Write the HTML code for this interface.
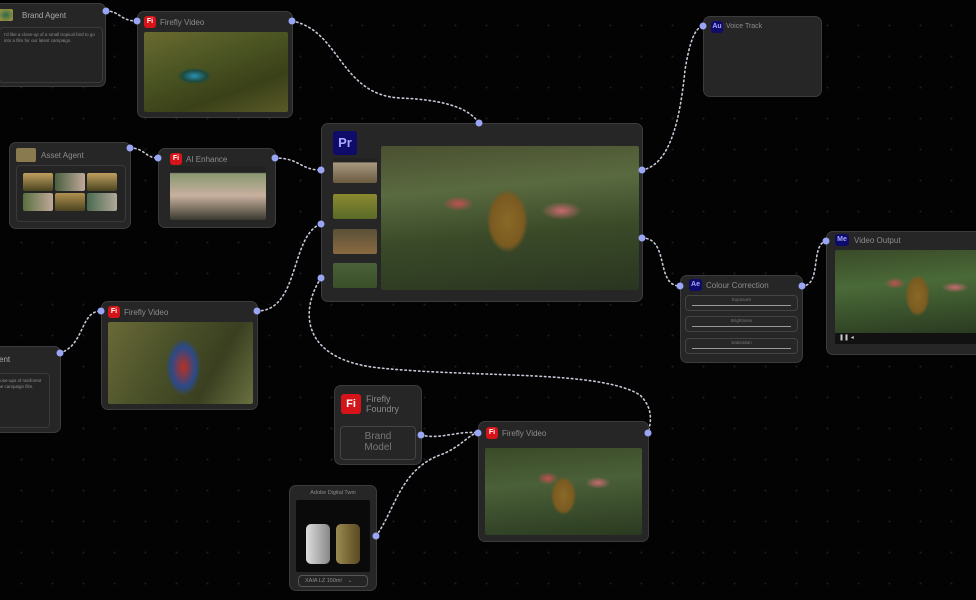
<!DOCTYPE html>
<html><head><meta charset="utf-8"><style>
*{margin:0;padding:0;box-sizing:border-box}
body{width:976px;height:600px;background:#030303;overflow:hidden;position:relative;font-family:"Liberation Sans",sans-serif;
background-image:radial-gradient(circle,#1e1e1e 0.8px,transparent 1.2px);background-size:31px 31px;background-position:6px 10px}
.n{position:absolute;background:#262626;border:1.5px solid #3c3c3c;border-radius:7px}
.t{position:absolute;color:#8c8c8c;font-size:8px;white-space:nowrap}
.ic{position:absolute;border-radius:3px;color:#fff;font-weight:bold;text-align:center}
.fi{background:#d5141a;width:12px;height:12px;font-size:7px;line-height:12px}
.img{position:absolute;border-radius:2px}
.box{position:absolute;border:1px solid #3a3a3a;border-radius:4px;background:#242424}
.sl{position:absolute;left:4px;right:4px;height:16px;border:1px solid #444;border-radius:4px;background:#272727}
.sl span{position:absolute;top:1px;width:100%;text-align:center;font-size:4.5px;color:#777}
.sl i{position:absolute;left:6px;right:6px;bottom:4px;height:1.5px;background:#999}
.green{background:radial-gradient(ellipse at 50% 60%,#4a5a2c,#2c3a1a 50%,#1a2410)}
</style></head><body>
<svg width="976" height="600" style="position:absolute;left:0;top:0;z-index:1" fill="none" stroke="#c8c8d8" stroke-width="1.6" stroke-dasharray="1.5 3" stroke-linecap="round">
<path d="M106,11 C120,11 120,21 137,21"/>
<path d="M292,21 C340,30 340,95 400,98 C450,100 470,110 479,123"/>
<path d="M130,148 C145,148 145,158 158,158"/>
<path d="M275,158 C300,158 300,170 321,170"/>
<path d="M60,353 C85,345 80,311 101,311"/>
<path d="M257,311 C300,311 290,235 321,224"/>
<path d="M321,278 C300,310 300,360 380,368 C480,378 600,370 640,395 C655,410 650,425 648,433"/>
<path d="M421,435 C440,440 460,430 478,433"/>
<path d="M376,536 C395,510 400,470 440,455 C460,448 470,433 478,433"/>
<path d="M642,170 C670,165 680,120 685,70 C690,40 695,28 703,26"/>
<path d="M642,238 C670,238 655,286 680,286"/>
<path d="M802,286 C822,286 810,245 826,241"/>
</svg>
<svg width="976" height="600" style="position:absolute;left:0;top:0;z-index:3" fill="#9aa6f5">
<circle cx="106" cy="11" r="3.5"/><circle cx="137" cy="21" r="3.5"/><circle cx="292" cy="21" r="3.5"/><circle cx="479" cy="123" r="3.5"/>
<circle cx="130" cy="148" r="3.5"/><circle cx="158" cy="158" r="3.5"/><circle cx="275" cy="158" r="3.5"/>
<circle cx="321" cy="170" r="3.5"/><circle cx="321" cy="224" r="3.5"/><circle cx="321" cy="278" r="3.5"/>
<circle cx="60" cy="353" r="3.5"/><circle cx="101" cy="311" r="3.5"/><circle cx="257" cy="311" r="3.5"/>
<circle cx="642" cy="170" r="3.5"/><circle cx="642" cy="238" r="3.5"/><circle cx="703" cy="26" r="3.5"/>
<circle cx="680" cy="286" r="3.5"/><circle cx="802" cy="286" r="3.5"/><circle cx="826" cy="241" r="3.5"/>
<circle cx="421" cy="435" r="3.5"/><circle cx="478" cy="433" r="3.5"/><circle cx="648" cy="433" r="3.5"/><circle cx="376" cy="536" r="3.5"/>
</svg>
<div style="position:absolute;inset:0;z-index:2">
<!-- Brand Agent -->
<div class="n" style="left:-6px;top:3px;width:112px;height:84px">
<div class="img" style="left:4px;top:5px;width:14px;height:12px;background:radial-gradient(#2c6a4a,#b09a40)"></div>
<div class="t" style="left:27px;top:7px;color:#aaa">Brand Agent</div>
<div class="box" style="left:4px;top:23px;width:104px;height:56px"><div class="t" style="left:4px;top:4px;font-size:4.5px;white-space:normal;width:95px;line-height:6px">I'd like a close-up of a small tropical bird to go into a film for our latest campaign.</div></div>
</div>
<!-- Firefly Video 1 -->
<div class="n" style="left:137px;top:11px;width:156px;height:107px">
<div class="ic fi" style="left:6px;top:4px">Fi</div><div class="t" style="left:22px;top:6px">Firefly Video</div>
<div class="img" style="left:6px;top:20px;width:144px;height:80px;background:radial-gradient(ellipse at 35% 55%,#2a8fb0 0,#1d4a40 9%,transparent 13%),linear-gradient(160deg,#6a6a30,#4a5422 40%,#3a4018 70%,#5a5a28)"></div>
</div>
<!-- Asset Agent -->
<div class="n" style="left:9px;top:142px;width:122px;height:87px">
<div class="img" style="left:6px;top:5px;width:20px;height:14px;background:#8a7a50"></div>
<div class="t" style="left:31px;top:8px">Asset Agent</div>
<div class="box" style="left:6px;top:22px;width:110px;height:57px">
<div class="img" style="left:6px;top:7px;width:30px;height:18px;background:linear-gradient(#c0a060,#4a4420)"></div>
<div class="img" style="left:38px;top:7px;width:30px;height:18px;background:linear-gradient(90deg,#4a6040,#c0a89a)"></div>
<div class="img" style="left:70px;top:7px;width:30px;height:18px;background:linear-gradient(#c0a060,#4a4420)"></div>
<div class="img" style="left:6px;top:27px;width:30px;height:18px;background:linear-gradient(90deg,#5a7040,#c0a89a)"></div>
<div class="img" style="left:38px;top:27px;width:30px;height:18px;background:linear-gradient(#b09050,#4a4420)"></div>
<div class="img" style="left:70px;top:27px;width:30px;height:18px;background:linear-gradient(90deg,#4a6a50,#b0a898)"></div>
</div></div>
<!-- AI Enhance -->
<div class="n" style="left:158px;top:148px;width:118px;height:80px">
<div class="ic fi" style="left:11px;top:4px">Fi</div><div class="t" style="left:27px;top:6px">AI Enhance</div>
<div class="img" style="left:11px;top:17px;width:96px;height:54px;background:linear-gradient(#222 0,#222 12%,#8a9870 14%,#c8b0a0 55%,#7a7060 80%,#3a3830)"></div>
</div>
<!-- Pr -->
<div class="n" style="left:321px;top:123px;width:322px;height:179px">
<div class="ic" style="left:11px;top:7px;width:24px;height:24px;background:#0e0b6a;color:#a8a8ff;font-size:13px;line-height:24px">Pr</div>
<div class="img" style="left:11px;top:34px;width:44px;height:25px;background:linear-gradient(#222 15%,#a89880 20%,#6a5a40)"></div>
<div class="img" style="left:11px;top:70px;width:44px;height:25px;background:linear-gradient(#8a8a30,#5a6a28)"></div>
<div class="img" style="left:11px;top:105px;width:44px;height:25px;background:linear-gradient(#5a5038,#8a6a40)"></div>
<div class="img" style="left:11px;top:139px;width:44px;height:25px;background:linear-gradient(#4a6038,#3a5028)"></div>
<div class="img" style="left:59px;top:22px;width:258px;height:144px;background:radial-gradient(ellipse 8% 22% at 49% 52%,#8a6a28 0,#7a5a20 80%,transparent 100%),radial-gradient(ellipse at 30% 40%,#c05050 0,transparent 6%),radial-gradient(ellipse at 70% 45%,#c86a70 0,transparent 8%),linear-gradient(175deg,#4a5030,#5a6a40 30%,#3a4a28 60%,#2a3520)"></div>
</div>
<!-- Voice Track -->
<div class="n" style="left:703px;top:16px;width:119px;height:81px">
<div class="ic" style="left:7px;top:4px;width:12px;height:12px;background:#0e0b6a;color:#a8a8ff;font-size:7px;line-height:12px">Au</div>
<div class="t" style="left:22px;top:6px;font-size:7px">Voice Track</div>
</div>
<!-- Colour Correction -->
<div class="n" style="left:680px;top:275px;width:123px;height:88px">
<div class="ic" style="left:8px;top:3px;width:13px;height:12px;background:#0e0b6a;color:#a8a8ff;font-size:7px;line-height:12px">Ae</div>
<div class="t" style="left:25px;top:5px">Colour Correction</div>
<div class="sl" style="top:19px"><span>Exposure</span><i></i></div>
<div class="sl" style="top:40px"><span>Brightness</span><i></i></div>
<div class="sl" style="top:62px"><span>Saturation</span><i></i></div>
</div>
<!-- Video Output -->
<div class="n" style="left:826px;top:231px;width:160px;height:124px">
<div class="ic" style="left:8px;top:2px;width:14px;height:12px;background:#0e0b6a;color:#a8a8ff;font-size:7px;line-height:12px">Me</div>
<div class="t" style="left:27px;top:4px">Video Output</div>
<div class="img" style="left:8px;top:18px;width:150px;height:83px;background:radial-gradient(ellipse 8% 25% at 55% 55%,#8a6a28 0,#7a5a20 80%,transparent 100%),radial-gradient(ellipse at 40% 40%,#c05050 0,transparent 8%),radial-gradient(ellipse at 80% 45%,#c86a70 0,transparent 8%),linear-gradient(175deg,#3a4a28,#4a6a38 40%,#2a3a20)"></div>
<div class="img" style="left:8px;top:101px;width:150px;height:11px;background:#111"><div class="t" style="left:4px;top:1px;color:#ccc;font-size:6px">❚❚ ◂</div></div>
</div>
<!-- left partial -->
<div class="n" style="left:-6px;top:346px;width:67px;height:87px">
<div class="t" style="left:4px;top:8px;color:#aaa">ent</div>
<div class="box" style="left:-2px;top:26px;width:57px;height:55px"><div class="t" style="left:3px;top:4px;font-size:4.5px;line-height:6px">close-ups of rainforest<br>the campaign film.</div></div>
</div>
<!-- Parrot -->
<div class="n" style="left:101px;top:301px;width:157px;height:109px">
<div class="ic fi" style="left:6px;top:4px">Fi</div><div class="t" style="left:22px;top:6px">Firefly Video</div>
<div class="img" style="left:6px;top:20px;width:145px;height:82px;background:radial-gradient(ellipse 12% 35% at 52% 55%,#b83020 0,#2a4a8a 70%,transparent 100%),linear-gradient(120deg,#6a6a38,#4a5028 40%,#3a4020 70%,#6a7040)"></div>
</div>
<!-- Firefly Foundry -->
<div class="n" style="left:334px;top:385px;width:88px;height:80px">
<div class="ic fi" style="left:6px;top:8px;width:20px;height:20px;font-size:11px;line-height:20px">Fi</div>
<div class="t" style="left:31px;top:8px;font-size:9px;line-height:10px;color:#888">Firefly<br>Foundry</div>
<div class="box" style="left:5px;top:40px;width:76px;height:34px;border-color:#444;background:#262626"><div class="t" style="left:0;width:100%;text-align:center;top:4px;font-size:10px;line-height:11px;color:#777">Brand<br>Model</div></div>
</div>
<!-- Firefly Video 3 -->
<div class="n" style="left:478px;top:421px;width:171px;height:121px">
<div class="ic fi" style="left:7px;top:5px">Fi</div><div class="t" style="left:23px;top:7px">Firefly Video</div>
<div class="img" style="left:6px;top:26px;width:157px;height:87px;background:radial-gradient(ellipse 8% 22% at 50% 55%,#8a6a28 0,#7a5a20 80%,transparent 100%),radial-gradient(ellipse at 40% 35%,#c05050 0,transparent 8%),radial-gradient(ellipse at 72% 40%,#c86a70 0,transparent 8%),linear-gradient(175deg,#3a4a28,#4a6038 40%,#2a3a20)"></div>
</div>
<!-- Adobe Digital Twin -->
<div class="n" style="left:289px;top:485px;width:88px;height:106px">
<div class="t" style="left:0;width:100%;text-align:center;top:4px;font-size:5.5px">Adobe Digital Twin</div>
<div class="img" style="left:6px;top:14px;width:74px;height:72px;background:#0a0a0a">
<div class="img" style="left:10px;top:24px;width:24px;height:40px;border-radius:5px;background:linear-gradient(90deg,#ddd,#888)"></div>
<div class="img" style="left:40px;top:24px;width:24px;height:40px;border-radius:5px;background:linear-gradient(90deg,#9a8a50,#5a4a20)"></div>
</div>
<div class="box" style="left:8px;top:89px;width:70px;height:12px;border-color:#555"><div class="t" style="left:6px;top:2px;font-size:5.5px">XAIA LZ 150ml &nbsp;&nbsp;&nbsp;⌄</div></div>
</div>
</div>
</body></html>
